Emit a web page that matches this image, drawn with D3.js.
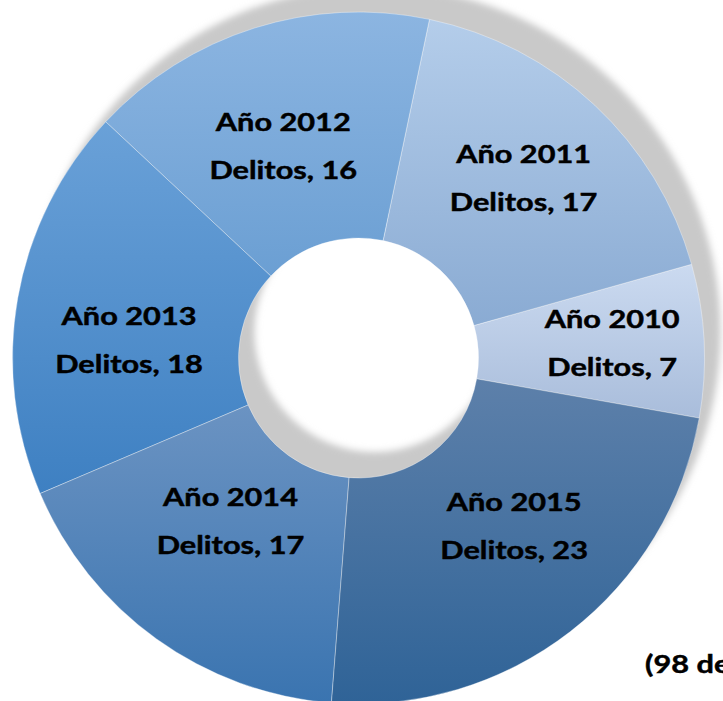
<!DOCTYPE html>
<html>
<head>
<meta charset="utf-8">
<script src="https://cdn.jsdelivr.net/npm/d3@7"></script>
<style>
  body { margin: 0; background: #fff; overflow: hidden; }
  text { font-family: Lato, "Open Sans", sans-serif; font-weight: 700; fill: #000; stroke: #000; stroke-width: 0.45px; }
</style>
</head>
<body>
<script>
// data
var years = ["2010", "2011", "2012", "2013", "2014", "2015"];
var delitos = [7, 17, 16, 18, 17, 23];

// slice gradients, top -> bottom
var topColors = ["#cbdaf0", "#b4cdea", "#8cb5e1", "#6aa1d8", "#6b93c2", "#5d80aa"];
var bottomColors = ["#a9bddb", "#8aabd3", "#6b9fd3", "#3e80c2", "#3a74b0", "#2f6397"];

// labels were hand placed in the original, small nudges off the centroid
var labelShift = [[21, -2], [6, -9], [-5, 11], [0, 23], [8, -25], [13, -15]];

function init () {
  'use strict';
  var w = 723;
  var h = 701;
  var cx = 358.5;
  var cy = 358;
  var outerR = 346;
  var innerR = 120;
  var stretch = 1.28;
  var fs = 24;

  var data = years.map(function(y, i) {
    return { year: y, value: delitos[i], i: i };
  });

  var svg = d3.select("body")
    .append("svg")
    .attr("width", w)
    .attr("height", h);

  var defs = svg.append("defs");

  defs.append("filter")
    .attr("id", "soft")
    .attr("x", "-10%").attr("y", "-10%")
    .attr("width", "120%").attr("height", "120%")
    .append("feGaussianBlur")
    .attr("stdDeviation", 3.5);

  var grads = defs.selectAll("linearGradient")
    .data(data)
    .enter()
    .append("linearGradient")
    .attr("id", function(d) { return "g" + d.i; })
    .attr("x1", 0).attr("y1", 0)
    .attr("x2", 0).attr("y2", 1);
  grads.append("stop").attr("offset", "0%")
    .attr("stop-color", function(d) { return topColors[d.i]; });
  grads.append("stop").attr("offset", "100%")
    .attr("stop-color", function(d) { return bottomColors[d.i]; });

  var start = 100 * Math.PI / 180;
  var pie = d3.pie()
    .sort(null)
    .value(function(d) { return d.value; })
    .startAngle(start)
    .endAngle(start - 2 * Math.PI);

  var arc = d3.arc()
    .innerRadius(innerR)
    .outerRadius(outerR);

  // drop shadow of the whole ring
  svg.append("path")
    .attr("d", arc({ startAngle: 0, endAngle: 2 * Math.PI }))
    .attr("transform", "translate(" + (cx + 16) + "," + (cy - 26) + ")")
    .attr("fill", "#c9c9c9")
    .attr("filter", "url(#soft)");

  var g = svg.append("g")
    .attr("transform", "translate(" + cx + "," + cy + ")");

  var arcs = pie(data);

  g.selectAll("path.slice")
    .data(arcs)
    .enter()
    .append("path")
    .attr("class", "slice")
    .attr("d", arc)
    .attr("fill", function(d) { return "url(#g" + d.data.i + ")"; })
    .attr("stroke", "rgba(255,255,255,0.45)")
    .attr("stroke-width", 0.8);

  var labels = g.selectAll("g.lab")
    .data(arcs)
    .enter()
    .append("g")
    .attr("class", "lab")
    .attr("transform", function(d) {
      var c = arc.centroid(d);
      var s = labelShift[d.data.i];
      return "translate(" + (c[0] + s[0]) + "," + (c[1] + s[1]) + ") scale(" + stretch + ",1)";
    });

  labels.append("text")
    .attr("text-anchor", "middle")
    .attr("y", -16)
    .attr("font-size", fs)
    .text(function(d) { return "Año " + d.data.year; });

  labels.append("text")
    .attr("text-anchor", "middle")
    .attr("y", 32)
    .attr("font-size", fs)
    .text(function(d) { return "Delitos, " + d.data.value; });

  // total, runs off the right edge like the original
  svg.append("text")
    .attr("transform", "translate(645,673) scale(" + stretch + ",1)")
    .attr("font-size", fs)
    .text("(" + d3.sum(delitos) + " delitos)");
}

window.onload = init;
</script>
</body>
</html>
